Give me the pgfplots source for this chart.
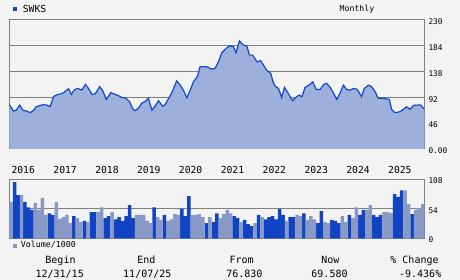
\documentclass[border=0pt]{standalone}
\usepackage{pgfplots}
\pgfplotsset{compat=1.18}
\usepackage{pgfplotstable}
\usepackage{fontspec}
\setmainfont{DejaVu Sans Mono}
\setmonofont{DejaVu Sans Mono}
\definecolor{bg}{RGB}{243,243,243}
\definecolor{frame}{RGB}{128,128,128}
\definecolor{areafill}{RGB}{157,176,220}
\definecolor{pline}{RGB}{17,72,200}
\definecolor{vdark}{RGB}{17,68,196}
\definecolor{vlight}{RGB}{136,153,198}

\pgfplotstableread{
m v
0 79
1.2 67.4
2 69
3 78
3.9 69
5.1 67
6 64.5
7 69
7.7 75
8.7 77
9.6 78.6
10.8 78
11.7 75
12.7 93
13.5 96
14.6 97.6
15.6 100
16.5 104.7
17 107
17.8 97
18.6 104.7
19.6 107.6
20.8 104.7
21.8 114.7
22.7 107.6
23.7 97
24.6 97.6
25.9 110.6
26.8 103.5
27.8 88
29.1 100
30.4 97
31.3 94.6
32.3 91.6
33.5 90
34.5 84
35.4 71.5
36.1 68
37.1 73
38 81.6
39 84.6
39.9 90
40.9 69
41.8 76
42.8 85.7
44 76
44.7 79
45.7 90
46.6 100
48 121
49 113.5
50 103.5
50.9 91
51.9 104.7
52.8 119.4
54 129.5
54.7 146
56.6 146
58.1 142
59 143
60 155
60.9 171
62.2 178.6
63.1 183
64.3 181.5
65 171
66 192
67.1 184.5
68.1 183
68.9 166.7
69.8 166.7
71 155
72.1 156.7
72.9 149
73.8 140
75 134
75.5 122
76.2 111.8
77.2 107.6
78.1 91.6
78.9 109.4
80 98.7
81.2 85.7
82.4 92.8
83.1 95.8
83.9 92.8
84.8 109.4
86.2 114.7
87 119.4
88 105.8
89.1 105.8
90.3 115.3
91 116.5
92 109.4
92.9 100
93.9 88
94.8 98.7
95.8 113.5
96.7 105.8
97.7 104.7
98.8 107.6
99.8 105.8
101 92.8
101.8 107.6
103 113.5
103.9 110.6
104.9 101.7
105.8 90
107.3 90
109 88
109.6 70.4
110.6 64.5
112 66.2
113 70.4
113.9 75
114.9 70.4
115.9 77.5
117 78
118 78
118.5 74
119 71
}\pricetable

\pgfplotstableread{
x v
1.5 103
2.5 79
4.5 67
5.5 57
6.5 52
11.5 46
12.5 43
18.5 41
21.5 32
23.5 48
24.5 48
27.5 37
28.5 41
30.5 35
31.5 39
32.5 32
33.5 41
34.5 61
35.5 37
41.5 57
44.5 43
49.5 54
50.5 41
51.5 77.5
56.5 28
58.5 30
59.5 46
64.5 41
65.5 37
67.5 34
68.5 26
69.5 22.5
71.5 43
73.5 35
74.5 39
75.5 41
76.5 35
77.5 54
78.5 43
80.5 39
81.5 39
84.5 46
88.5 28
89.5 50
92.5 34
93.5 32
94.5 28
97.5 43
100.5 43
101.5 52
104.5 43
105.5 39
106.5 43
110.5 81
111.5 76
112.5 88
115.5 44.5
}\voldark

\pgfplotstableread{
x v
0.5 67
3.5 79
7.5 65
8.5 52
9.5 74
10.5 43
13.5 66.5
14.5 36
15.5 39
16.5 43
17.5 28
19.5 37
20.5 30
22.5 30
25.5 48
26.5 57
29.5 48
36.5 43
37.5 43
38.5 43
39.5 32
40.5 28
42.5 39
43.5 34
45.5 32
46.5 35
47.5 44.5
48.5 43
52.5 43
53.5 43
54.5 44.5
55.5 39
57.5 39
60.5 37
61.5 44.5
62.5 52
63.5 46
66.5 30
70.5 28
72.5 39
79.5 32
82.5 43
83.5 41
85.5 34
86.5 41
87.5 35
90.5 30
91.5 28
95.5 41
96.5 30
98.5 37
99.5 57
102.5 52
103.5 61
107.5 48
108.5 48
109.5 46.5
113.5 88
114.5 63
116.5 52
117.5 55.5
118.5 63
}\vollight

\begin{document}
\begin{tikzpicture}[x=1pt,y=1pt]
\useasboundingbox (0,0) rectangle (460,-280);
\fill[bg] (0,0) rectangle (460,-280);

% price panel
\begin{axis}[
  at={(9.3pt,-149pt)}, anchor=south west,
  width=415pt, height=129.5pt, scale only axis,
  xmin=0, xmax=119, ymin=0, ymax=230,
  axis line style={frame, line width=1pt},
  xtick=\empty,
  ytick={0,46,92,138,184,230},
  yticklabels={0.00,46,92,138,184,230},
  yticklabel pos=right,
  ymajorgrids, grid style={frame, line width=1pt},
  major tick length=0pt,
  yticklabel style={font=\fontsize{7.8}{8}\selectfont, anchor=west, inner sep=0pt, xshift=4pt, yshift=-2pt},
  /pgf/number format/assume math mode=true,
]
\addplot[fill=areafill, draw=none] table[x=m, y=v] {\pricetable} \closedcycle;
\addplot[pline, line width=1.2pt] table[x=m, y=v] {\pricetable};
\end{axis}

% volume panel
\begin{axis}[
  at={(9.3pt,-238.5pt)}, anchor=south west,
  width=415pt, height=59.2pt, scale only axis,
  xmin=0, xmax=119, ymin=0, ymax=108,
  axis line style={frame, line width=1pt},
  xtick={4,16,28,40,52,64,76,88,100,112},
  xticklabels={2016,2017,2018,2019,2020,2021,2022,2023,2024,2025},
  xticklabel pos=upper,
  xticklabel style={font=\fontsize{9.7}{10}\selectfont, anchor=base, inner sep=0pt, yshift=5.3pt},
  ytick={0,54,108},
  yticklabel pos=right,
  ymajorgrids, grid style={frame, line width=1pt},
  major tick length=0pt,
  yticklabel style={font=\fontsize{7.8}{8}\selectfont, anchor=west, inner sep=0pt, xshift=4pt, yshift=-1.5pt},
  /pgf/number format/assume math mode=true,
]
\addplot[ybar, bar width=1, bar shift=0pt, fill=vdark, draw=none] table[x=x, y=v] {\voldark};
\addplot[ybar, bar width=1, bar shift=0pt, fill=vlight, draw=none] table[x=x, y=v] {\vollight};
\end{axis}

% legends and titles
\fill[vdark] (13.3,-7) rectangle (17.3,-11);
\node[anchor=base west, inner sep=0pt, font=\fontsize{9.7}{10}\selectfont] at (22.7,-12.7) {SWKS};
\node[anchor=base, inner sep=0pt, font=\fontsize{8.2}{9}\selectfont] at (357,-12) {Monthly};
\fill[vlight] (13.3,-243.7) rectangle (17.3,-247.7);
\node[anchor=base west, inner sep=0pt, font=\fontsize{8.3}{9}\selectfont] at (20.7,-247.5) {Volume/1000};

% footer
\begin{scope}[every node/.style={anchor=base, inner sep=0pt, font=\fontsize{10}{11}\selectfont}]
\node at (60.5,-263.3) {Begin};
\node at (59.7,-277.3) {12/31/15};
\node at (146.3,-263.3) {End};
\node at (147.3,-277.3) {11/07/25};
\node at (241.7,-263.3) {From};
\node at (244.4,-277.3) {76.830};
\node at (330.3,-263.3) {Now};
\node at (329.5,-277.3) {69.580};
\node at (414.5,-263.3) {\% Change};
\node at (420.2,-277.3) {-9.436\%};
\end{scope}
\end{tikzpicture}
\end{document}
